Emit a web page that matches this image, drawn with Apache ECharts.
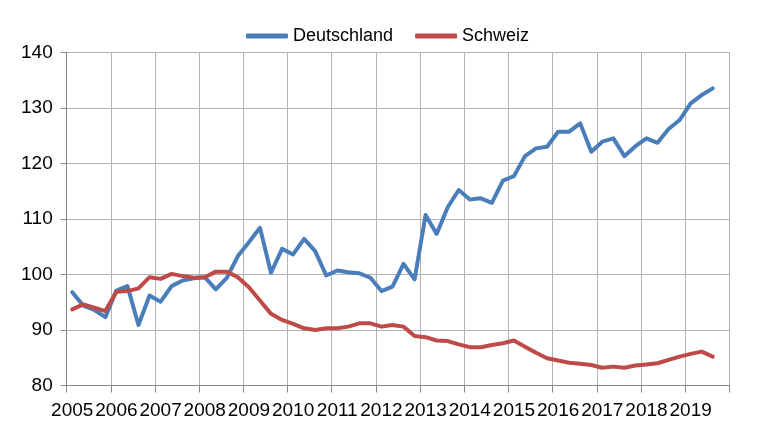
<!DOCTYPE html>
<html>
<head>
<meta charset="utf-8">
<script src="https://cdn.jsdelivr.net/npm/echarts@6/dist/echarts.min.js"></script>
<style>
html,body{margin:0;padding:0;background:#fff;}
#c{width:766px;height:438px;}
</style>
</head>
<body>
<div id="c"></div>
<script>
const years = ['2005','2006','2007','2008','2009','2010','2011','2012','2013','2014','2015','2016','2017','2018','2019'];
const quarters = ['Q1','Q2','Q3','Q4'];
const seriesNames = ['Deutschland', 'Schweiz'];
const deutschland = [
  96.8, 94.4, 93.6, 92.3,
  97.1, 97.9, 90.9, 96.2,
  95.1, 97.9, 98.9, 99.3,
  99.5, 97.3, 99.4, 103.3,
  105.8, 108.4, 100.3, 104.6,
  103.6, 106.4, 104.2, 99.8,
  100.7, 100.4, 100.2, 99.4,
  97.0, 97.8, 101.9, 99.1,
  110.7, 107.3, 112.1, 115.2,
  113.5, 113.7, 112.9, 116.9,
  117.7, 121.3, 122.7, 123.0,
  125.7, 125.7, 127.2, 122.1,
  123.9, 124.5, 121.3, 123.1,
  124.5, 123.7, 126.2, 127.8,
  130.8, 132.3, 133.5
];
const schweiz = [
  93.7, 94.6, 94.0, 93.4,
  96.9, 97.0, 97.5, 99.5,
  99.2, 100.1, 99.7, 99.4,
  99.5, 100.5, 100.5, 99.5,
  97.7, 95.3, 92.9, 91.8,
  91.1, 90.3, 90.0, 90.3,
  90.3, 90.6, 91.2, 91.2,
  90.6, 90.9, 90.6, 88.9,
  88.7, 88.1, 88.0, 87.4,
  86.9, 86.9, 87.3, 87.6,
  88.1, 87.0, 85.9, 84.9,
  84.5, 84.1, 83.9, 83.7,
  83.2, 83.4, 83.2, 83.6,
  83.8, 84.0, 84.6, 85.2,
  85.7, 86.1, 85.2
];

const categories = [];
years.forEach(y => quarters.forEach(q => categories.push(y + ' ' + q)));

const FONT = 'Liberation Sans';
const chart = echarts.init(document.getElementById('c'), null, {renderer: 'canvas'});
chart.setOption({
  animation: false,
  backgroundColor: '#ffffff',
  textStyle: {fontFamily: FONT},
  legend: {
    top: 22,
    left: 241,
    itemWidth: 42,
    itemHeight: 5,
    itemGap: 22,
    icon: 'roundRect',
    textStyle: {fontFamily: FONT, fontSize: 18, color: '#000'},
    data: seriesNames
  },
  grid: {left: 66.7, right: 36.7, top: 52.3, bottom: 52.5, containLabel: false},
  xAxis: {
    type: 'category',
    data: categories,
    boundaryGap: true,
    axisLine: {show: true, lineStyle: {color: '#868686', width: 1}},
    axisTick: {show: true, interval: 3, length: 7, lineStyle: {color: '#868686'}},
    axisLabel: {
      interval: 3,
      margin: 16,
      fontFamily: FONT,
      fontSize: 19,
      color: '#000',
      formatter: v => v.slice(0, 4)
    },
    splitLine: {show: true, interval: 3, lineStyle: {color: '#b3b3b3', width: 1}}
  },
  yAxis: {
    type: 'value',
    min: 80,
    max: 140,
    interval: 10,
    axisLine: {show: true, lineStyle: {color: '#868686', width: 1}},
    axisTick: {show: true, length: 6, lineStyle: {color: '#868686'}},
    axisLabel: {margin: 14, fontFamily: FONT, fontSize: 19, color: '#000'},
    splitLine: {show: true, lineStyle: {color: '#b3b3b3', width: 1}}
  },
  series: [
    {
      name: seriesNames[0],
      type: 'line',
      data: deutschland,
      showSymbol: false,
      symbol: 'none',
      itemStyle: {color: '#4a7ebb'},
      lineStyle: {color: '#4a7ebb', width: 4, join: 'round', cap: 'round'}
    },
    {
      name: seriesNames[1],
      type: 'line',
      data: schweiz,
      showSymbol: false,
      symbol: 'none',
      itemStyle: {color: '#be4b48'},
      lineStyle: {color: '#be4b48', width: 4, join: 'round', cap: 'round'}
    }
  ]
});
</script>
</body>
</html>
